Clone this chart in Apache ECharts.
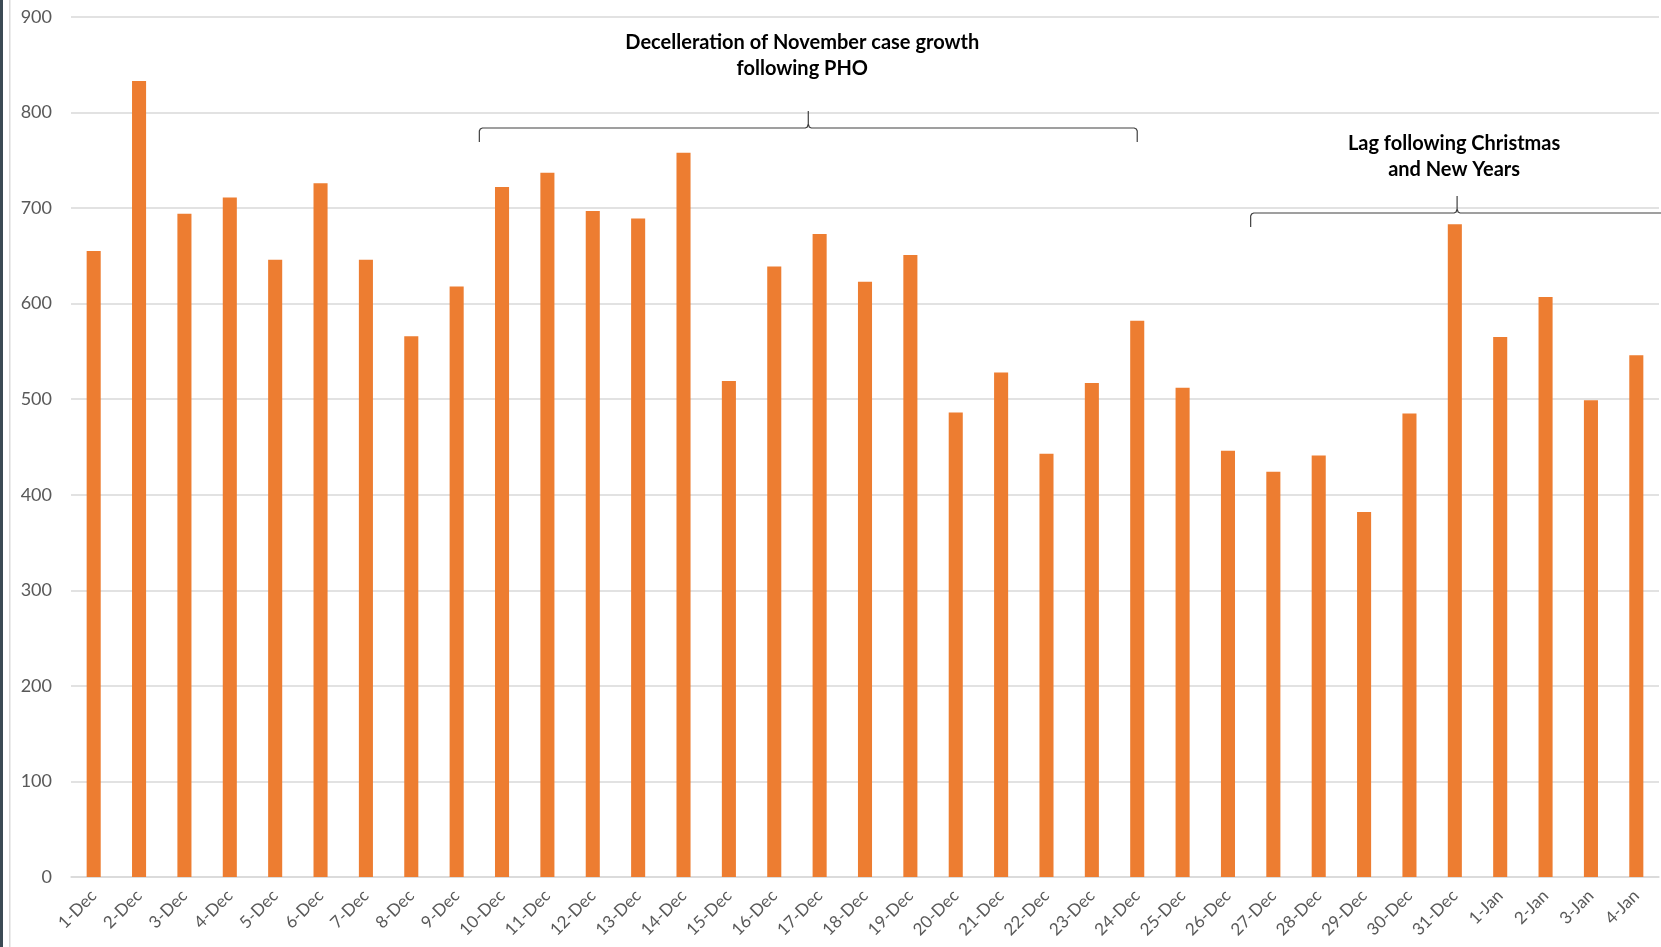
<!DOCTYPE html>
<html>
<head>
<meta charset="utf-8">
<script src="https://cdn.jsdelivr.net/npm/echarts@6/dist/echarts.min.js"></script>
<style>
  html, body { margin: 0; padding: 0; background: #fff; }
  #chart { width: 1661px; height: 947px; }
</style>
</head>
<body>
<div id="chart"></div>
<script>
const days = ['1-Dec', '2-Dec', '3-Dec', '4-Dec', '5-Dec', '6-Dec', '7-Dec', '8-Dec', '9-Dec', '10-Dec',
    '11-Dec', '12-Dec', '13-Dec', '14-Dec', '15-Dec', '16-Dec', '17-Dec', '18-Dec', '19-Dec', '20-Dec',
    '21-Dec', '22-Dec', '23-Dec', '24-Dec', '25-Dec', '26-Dec', '27-Dec', '28-Dec', '29-Dec', '30-Dec',
    '31-Dec', '1-Jan', '2-Jan', '3-Jan', '4-Jan'];
const cases = [655, 833, 694, 711, 646, 726, 646, 566, 618, 722,
    737, 697, 689, 758, 519, 639, 673, 623, 651, 486,
    528, 443, 517, 582, 512, 446, 424, 441, 382, 485,
    683, 565, 607, 499, 546];
const yTicks = [0, 900, 100];  // min, max, interval

const notePHO = ['Decelleration of November case growth', 'following PHO'];
const noteHoliday = ['Lag following Christmas', 'and New Years'];

const el = document.getElementById('chart');
const chart = echarts.init(el);

chart.setOption({
    animation: false,
    textStyle: { fontFamily: 'Lato', color: '#595959' },
    grid: { left: 71, right: 2, top: 17, bottom: 70, containLabel: false },
    xAxis: {
        type: 'category',
        data: days,
        axisLine: { lineStyle: { color: '#d9d9d9', width: 1.5 } },
        axisTick: { length: 5, lineStyle: { color: '#d9d9d9', width: 1.5 } },
        axisLabel: { rotate: 45, fontSize: 17, color: '#595959', margin: 16, interval: 0 }
    },
    yAxis: {
        type: 'value',
        min: yTicks[0],
        max: yTicks[1],
        interval: yTicks[2],
        axisLine: { show: false },
        axisTick: { show: false },
        splitLine: { lineStyle: { color: '#d9d9d9', width: 1.5 } },
        axisLabel: { fontSize: 18, color: '#595959', margin: 19 }
    },
    series: [{
        name: 'cases',
        type: 'bar',
        data: cases,
        barWidth: '31%',
        itemStyle: { color: '#ed7d31' }
    }]
});

// curly brace as a polyline: ends drop down, tip points up at xm
function brace(x1, x2, xm, y) {
    return {
        type: 'polyline',
        shape: {
            points: [
                [x1, y + 14], [x1, y + 3], [x1 + 1, y + 1], [x1 + 3, y],
                [xm - 3, y], [xm - 1, y - 1], [xm, y - 4], [xm, y - 17],
                [xm, y - 4], [xm + 1, y - 1], [xm + 3, y],
                [x2 - 3, y], [x2 - 1, y + 1], [x2, y + 3], [x2, y + 14]
            ]
        },
        style: { stroke: '#404040', lineWidth: 1.2, fill: null }
    };
}

function drawNotes() {
    const px = (i) => chart.convertToPixel({ xAxisIndex: 0 }, i);
    const step = px(1) - px(0);
    const a1 = px(9) - step / 2, a2 = px(23);
    const am = (a1 + a2) / 2;
    const b1 = px(26) - step / 2, b2 = px(34) + step;
    const bm = px(30) + step * 0.05;
    const bold = { fontFamily: 'Lato', fontWeight: 'bold', fontSize: 20, fill: '#000', align: 'center', lineHeight: 26 };
    chart.setOption({
        graphic: [
            { type: 'rect', shape: { x: 0, y: 0, width: 3, height: 947 }, style: { fill: '#3b4a54' } },
            { type: 'rect', shape: { x: 9, y: 0, width: 1.5, height: 947 }, style: { fill: '#d9d9d9' } },
            brace(a1, a2, am, 128),
            brace(b1, b2, bm, 213),
            { type: 'text', x: am - 6, y: 30, style: Object.assign({ text: notePHO.join('\n') }, bold) },
            { type: 'text', x: bm - 3, y: 131, style: Object.assign({ text: noteHoliday.join('\n') }, bold) }
        ]
    });
}
drawNotes();

new ResizeObserver(() => { chart.resize(); drawNotes(); }).observe(el);
</script>
</body>
</html>
